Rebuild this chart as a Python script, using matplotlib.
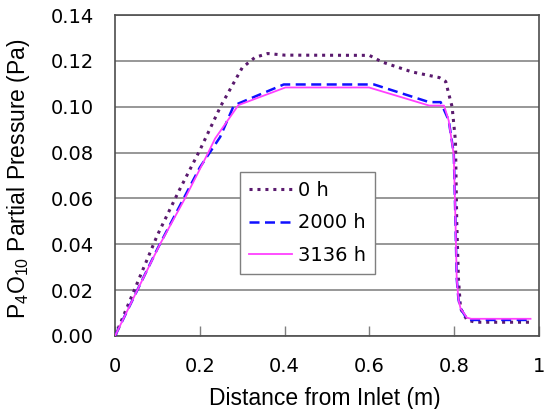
import matplotlib
matplotlib.use('Agg')
import numpy as np
import matplotlib.pyplot as plt

#==========================================================
# Data
#==========================================================
x_0h = [0, 0.05, 0.10, 0.15, 0.20, 0.25, 0.30, 0.33, 0.36, 0.40, 0.60, 0.63,
        0.70, 0.765, 0.78, 0.787, 0.795, 0.803, 0.806, 0.81, 0.815, 0.83,
        0.85, 0.98]
y_0h = [0, 0.022, 0.044, 0.063, 0.081, 0.1005, 0.117, 0.1215, 0.1232, 0.1225,
        0.1224, 0.1195, 0.1152, 0.1127, 0.111, 0.1057, 0.100, 0.085, 0.050,
        0.025, 0.012, 0.007, 0.006, 0.006]

x_2000h = [0, 0.10, 0.20, 0.248, 0.279, 0.291, 0.398, 0.611, 0.741, 0.768,
           0.787, 0.799, 0.803, 0.806, 0.81, 0.815, 0.83, 0.84, 0.98]
y_2000h = [0, 0.038, 0.0735, 0.0868, 0.100, 0.1014, 0.1097, 0.1097, 0.102,
           0.102, 0.0941, 0.0796, 0.050, 0.025, 0.016, 0.012, 0.0075, 0.007,
           0.007]

x_3136h = [0, 0.05, 0.106, 0.165, 0.22, 0.236, 0.291, 0.402, 0.599, 0.741,
           0.776, 0.787, 0.799, 0.803, 0.806, 0.81, 0.815, 0.83, 0.84, 0.98]
y_3136h = [0, 0.019, 0.040, 0.060, 0.080, 0.0861, 0.1007, 0.1084, 0.1084,
           0.1005, 0.1005, 0.094, 0.079, 0.050, 0.025, 0.016, 0.012, 0.008,
           0.0075, 0.0075]

labels = ['0 h', '2000 h', '3136 h']

#==========================================================
# plot
#==========================================================
plt.rcParams['mathtext.fontset'] = 'custom'
plt.rcParams['mathtext.rm'] = 'Liberation Sans'

fig = plt.figure(figsize=(5.44, 4.09), dpi=100)
ax = fig.add_axes([0.2114, 0.1785, 0.7794, 0.7848])

ax.plot(x_0h, y_0h, color='#5a1a6e', linestyle=(0, (1, 1.6)), linewidth=2.2,
        label=labels[0], zorder=5)
ax.plot(x_2000h, y_2000h, color='#1010ff', linestyle=(0, (4, 2.2)), linewidth=1.8,
        label=labels[1], zorder=6)
ax.plot(x_3136h, y_3136h, color='#ff40ff', linestyle='-', linewidth=1.3,
        label=labels[2], zorder=7)

ax.set_xlim(0, 1)
ax.set_ylim(0, 0.14)
ax.set_xticks(np.arange(0, 1.01, 0.2))
ax.set_xticklabels(['0', '0.2', '0.4', '0.6', '0.8', '1'])
ax.set_yticks(np.arange(0, 0.141, 0.02))
ax.set_yticklabels(['%.2f' % v for v in np.arange(0, 0.141, 0.02)])

ax.yaxis.grid(True, color='#7a7a7a', linewidth=1.1, zorder=1)
ax.set_axisbelow(True)
for s in ax.spines.values():
    s.set_color('#4d4d4d')
    s.set_linewidth(1.2)

ax.tick_params(axis='x', direction='in', length=7, width=1, color='#7f7f7f',
               labelsize=14, pad=15)
ax.tick_params(axis='y', length=0, labelsize=14, pad=15)

ax.set_xlabel('Distance from Inlet (m)', fontsize=16.5, family='Liberation Sans')
ax.set_ylabel(r'P$_4$O$_{10}$ Partial Pressure (Pa)', fontsize=16.5,
              family='Liberation Sans')
ax.xaxis.set_label_coords(0.495, -0.158)
ax.yaxis.set_label_coords(-0.196, 0.49)

leg = ax.legend(loc='upper left', bbox_to_anchor=(0.295, 0.511), borderaxespad=0,
                fontsize=14, handlelength=2.2, handletextpad=0.35,
                labelspacing=0.7, borderpad=0.45, fancybox=False,
                framealpha=1, edgecolor='#7f7f7f')
leg.get_frame().set_linewidth(1.0)
leg.set_zorder(10)

plt.savefig('out.png', dpi=100)
